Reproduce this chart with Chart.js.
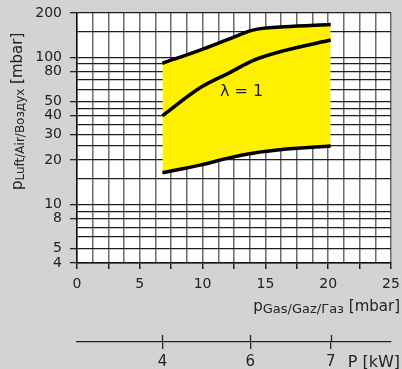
<!DOCTYPE html>
<html>
<head>
<meta charset="utf-8">
<script src="https://cdn.jsdelivr.net/npm/chart.js@4.4.7/dist/chart.umd.min.js"></script>
<style>
  html, body { margin: 0; padding: 0; background: #d3d3d3; }
</style>
</head>
<body>
<canvas id="chart" width="402" height="369"></canvas>
<script>
// gas pressure [mbar] where the curves were read
const gasPressure = [6.8, 9.8, 12.2, 14.0, 16.5, 20.2];
// air pressure [mbar] along the upper edge, lambda = 1 line and lower edge
const airUpper = [91, 112, 134, 153, 161, 167];
const airLambda1 = [40, 62, 79, 95, 111, 131];
const airLower = [16.4, 18.5, 20.8, 22.3, 23.7, 25.0];

const airTicks = [4, 5, 6, 7, 8, 9, 10, 15, 20, 25, 30, 35, 40, 45, 50, 60, 70, 80, 90, 100, 150, 200];
const airLabels = [4, 5, 8, 10, 20, 30, 40, 50, 80, 100, 200];
const gasLabels = [0, 5, 10, 15, 20, 25];
const powerKW = [4, 6, 7];
const powerGas = [6.8, 13.8, 20.2];

const FONT = "'DejaVu Sans', sans-serif";
const INK = "#222";

const toPoints = (ys) => gasPressure.map((x, i) => ({ x, y: ys[i] }));

function drawSubscripted(ctx, parts, x, y, align) {
  ctx.textBaseline = "alphabetic";
  ctx.textAlign = "left";
  let total = 0;
  parts.forEach((p) => { ctx.font = p.font; total += ctx.measureText(p.text).width; });
  let cx = align === "right" ? x - total : x;
  parts.forEach((p) => {
    ctx.font = p.font;
    ctx.fillText(p.text, cx, y + (p.dy || 0));
    cx += ctx.measureText(p.text).width;
  });
}

// keep the plot box where the figure has it, labels may overhang
function noOverhang(s) {
  s.paddingLeft = 0;
  s.paddingRight = 0;
  s.paddingTop = 0;
  s.paddingBottom = 0;
}

const decorations = {
  id: "decorations",
  beforeDraw(chart) {
    const { ctx, chartArea: a } = chart;
    ctx.save();
    ctx.fillStyle = "#d3d3d3";
    ctx.fillRect(0, 0, chart.width, chart.height);
    ctx.fillStyle = "#fff";
    ctx.fillRect(a.left, a.top, a.right - a.left, a.bottom - a.top);
    ctx.restore();
  },
  afterDraw(chart) {
    const { ctx, scales } = chart;
    ctx.save();
    ctx.fillStyle = INK;

    // lambda label
    ctx.font = "16px " + FONT;
    ctx.textAlign = "center";
    ctx.textBaseline = "alphabetic";
    ctx.fillText("λ = 1", scales.x.getPixelForValue(13.1), scales.y.getPixelForValue(54.5));

    // x title
    drawSubscripted(ctx, [
      { text: "p", font: "15px " + FONT },
      { text: "Gas/Gaz/Газ", font: "13px " + FONT, dy: 2 },
      { text: " [mbar]", font: "15px " + FONT },
    ], 400, 311, "right");

    // y title
    ctx.translate(22, 190);
    ctx.rotate(-Math.PI / 2);
    drawSubscripted(ctx, [
      { text: "p", font: "15px " + FONT },
      { text: "Luft/Air/Воздух", font: "12px " + FONT, dy: 2 },
      { text: " [mbar]", font: "15px " + FONT },
    ], 0, 0, "left");
    ctx.setTransform(1, 0, 0, 1, 0, 0);

    // power axis: tick parts above the line and the unit
    const x2 = scales.x2;
    ctx.strokeStyle = INK;
    ctx.lineWidth = 1.3;
    powerGas.forEach((v) => {
      const px = Math.round(x2.getPixelForValue(v)) + 0.5;
      ctx.beginPath();
      ctx.moveTo(px, x2.top - 7);
      ctx.lineTo(px, x2.top);
      ctx.stroke();
    });
    ctx.font = "16px " + FONT;
    ctx.textAlign = "right";
    ctx.fillText("P [kW]", 400, 367);
    ctx.restore();
  },
};

const curve = {
  borderColor: "#000",
  borderWidth: 3.5,
  pointRadius: 0,
  cubicInterpolationMode: "monotone",
};

new Chart(document.getElementById("chart"), {
  type: "line",
  data: {
    datasets: [
      { ...curve, label: "lower", data: toPoints(airLower), fill: false },
      { ...curve, label: "lambda1", data: toPoints(airLambda1), fill: false },
      { ...curve, label: "upper", data: toPoints(airUpper), fill: 0, backgroundColor: "#fff000" },
    ],
  },
  options: {
    responsive: false,
    animation: false,
    layout: { padding: { top: 13, right: 11, left: 0, bottom: 0 } },
    plugins: { legend: { display: false }, tooltip: { enabled: false } },
    scales: {
      x: {
        type: "linear",
        position: "bottom",
        weight: 0,
        min: 0,
        max: 25,
        afterFit(s) { s.height = 79; noOverhang(s); },
        ticks: {
          stepSize: 1.25,
          autoSkip: false,
          maxRotation: 0,
          padding: 7,
          color: INK,
          font: { family: FONT, size: 14 },
          callback: (v) => (gasLabels.includes(v) ? String(v) : ""),
        },
        grid: {
          color: "#6b6b6b",
          lineWidth: 1.5,
          tickLength: 6,
          tickColor: (c) => (c.tick && c.tick.value % 2.5 === 0 ? INK : "rgba(0,0,0,0)"),
        },
        border: { color: "#111", width: 1.5 },
      },
      x2: {
        type: "linear",
        position: "bottom",
        weight: 1,
        min: 0,
        max: 25,
        afterFit(s) { s.height = 27; noOverhang(s); },
        afterBuildTicks(s) { s.ticks = powerGas.map((value) => ({ value })); },
        ticks: {
          autoSkip: false,
          maxRotation: 0,
          padding: 4,
          color: INK,
          font: { family: FONT, size: 15 },
          callback: (v, i) => String(powerKW[i]),
        },
        grid: { drawOnChartArea: false, tickLength: 7, tickColor: INK, lineWidth: 1.3 },
        border: { color: INK, width: 1.3 },
      },
      y: {
        type: "logarithmic",
        min: 4,
        max: 200,
        afterFit(s) { s.width = 77; noOverhang(s); },
        afterBuildTicks(s) { s.ticks = airTicks.map((value) => ({ value })); },
        ticks: {
          autoSkip: false,
          padding: 8,
          color: INK,
          font: { family: FONT, size: 14 },
          callback: (v) => (airLabels.includes(v) ? String(v) : ""),
        },
        grid: {
          color: "#1e1e1e",
          lineWidth: 1.3,
          tickLength: 7,
          tickColor: (c) => (c.tick && airLabels.includes(c.tick.value) ? INK : "rgba(0,0,0,0)"),
        },
        border: { color: "#111", width: 1.5 },
      },
    },
  },
  plugins: [decorations],
});
</script>
</body>
</html>
